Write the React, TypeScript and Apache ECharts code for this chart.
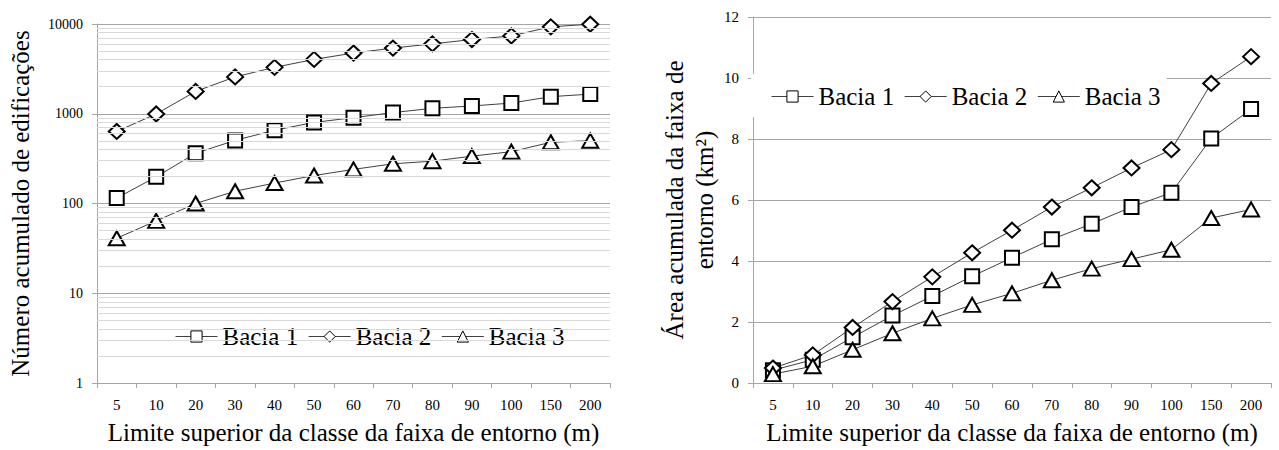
import React, { useEffect, useRef } from "react";
import * as echarts from "echarts";

const categories = ["5", "10", "20", "30", "40", "50", "60", "70", "80", "90", "100", "150", "200"];
const seriesNames = ["Bacia 1", "Bacia 2", "Bacia 3"];

// Left chart: cumulative number of buildings (log scale)
const bacia1Count = [115, 198, 363, 505, 655, 800, 905, 1030, 1150, 1220, 1315, 1550, 1655];
const bacia2Count = [635, 995, 1775, 2575, 3290, 4030, 4750, 5390, 6010, 6710, 7370, 9300, 9950];
const bacia3Count = [41, 64, 100, 137, 169, 205, 240, 277, 296, 337, 378, 481, 501];

// Right chart: cumulative area (km²)
const bacia1Area = [0.42, 0.76, 1.5, 2.21, 2.85, 3.5, 4.11, 4.71, 5.22, 5.77, 6.24, 8.02, 8.98];
const bacia2Area = [0.49, 0.92, 1.82, 2.67, 3.48, 4.27, 5.01, 5.77, 6.4, 7.05, 7.65, 9.82, 10.7];
const bacia3Area = [0.29, 0.55, 1.09, 1.63, 2.12, 2.56, 2.94, 3.37, 3.75, 4.06, 4.37, 5.41, 5.69];

// Log-axis minor gridlines (2..9 within each decade)
const decades = [1, 10, 100, 1000];
const minorMultipliers = [2, 3, 4, 5, 6, 7, 8, 9];

const leftTitleY = "Número acumulado de edificações";
const rightTitleY = "Área acumulada da faixa de\nentorno (km²)";
const titleX = "Limite superior da classe da faixa de entorno (m)";

const FONT = "'Liberation Serif', 'Times New Roman', serif";
const MAJOR = "#a6a6a6";
const MINOR = "#d9d9d9";

const symbols = ["rect", "diamond", "triangle"];
const symbolSizes: any[] = [[14, 14], [16, 15], [16, 14]];

export default function App() {
  const ref = useRef<HTMLDivElement>(null);

  useEffect(() => {
    if (!ref.current) return;
    const chart = echarts.init(ref.current, undefined, { renderer: "svg" });

    const minorGridValues: number[] = [];
    decades.forEach((d) => minorMultipliers.forEach((m) => minorGridValues.push(d * m)));

    const countData = [bacia1Count, bacia2Count, bacia3Count];
    const areaData = [bacia1Area, bacia2Area, bacia3Area];

    const mkSeries = (idx: number, data: number[], axisIndex: number) => ({
      name: seriesNames[idx],
      type: "line",
      xAxisIndex: axisIndex,
      yAxisIndex: axisIndex,
      data,
      symbol: symbols[idx],
      symbolSize: symbolSizes[idx],
      showAllSymbol: true,
      lineStyle: { color: "#404040", width: 1 },
      itemStyle: { color: "#ffffff", borderColor: "#000000", borderWidth: 2 },
      z: 3,
    });

    const xAxisCommon = {
      type: "category",
      data: categories,
      boundaryGap: true,
      axisLine: { show: true, lineStyle: { color: MAJOR, width: 1 } },
      axisTick: { show: true, length: 5, lineStyle: { color: MAJOR } },
      axisLabel: { fontSize: 15, color: "#000", margin: 14, interval: 0, fontFamily: FONT },
      splitLine: { show: false },
      name: titleX,
      nameLocation: "middle",
      nameGap: 37,
      nameTextStyle: { fontSize: 25, color: "#000", fontFamily: FONT },
    };

    const legendCommon = {
      data: seriesNames.map((n) => ({ name: n, textStyle: { fontFamily: FONT, fontSize: 25, color: "#000" } })),
      orient: "horizontal",
      itemWidth: 42,
      itemHeight: 14,
      itemGap: 10,
      backgroundColor: "#ffffff",
      textStyle: { fontSize: 25, color: "#000", fontFamily: FONT },
      itemStyle: { borderWidth: 1 },
      lineStyle: { width: 1, color: "#404040" },
      selectedMode: false,
    };

    const option: any = {
      animation: false,
      backgroundColor: "#ffffff",
      textStyle: { fontFamily: FONT },
      grid: [
        { left: 97, right: 1279 - 610, top: 24, bottom: 450 - 386 },
        { left: 753, right: 1279 - 1271, top: 17, bottom: 450 - 385 },
      ],
      legend: [
        { ...legendCommon, left: 167, top: 318, padding: [6, 8, 6, 8] },
        { ...legendCommon, left: 751, top: 74, padding: [10, 6, 8, 20] },
      ],
      xAxis: [
        { ...xAxisCommon, gridIndex: 0 },
        { ...xAxisCommon, gridIndex: 1 },
      ],
      yAxis: [
        {
          type: "log",
          logBase: 10,
          min: 1,
          max: 10000,
          gridIndex: 0,
          axisLine: { show: true, lineStyle: { color: MAJOR } },
          axisTick: { show: true, length: 5, lineStyle: { color: MAJOR } },
          axisLabel: {
            fontSize: 14,
            color: "#000",
            margin: 14,
            fontFamily: FONT,
            formatter: (v: number) => String(Math.round(v)),
          },
          splitLine: { show: true, lineStyle: { color: MAJOR, width: 1 } },
          name: leftTitleY,
          nameLocation: "middle",
          nameRotate: 90,
          nameGap: 64,
          nameTextStyle: { fontSize: 25, color: "#000", fontFamily: FONT },
        },
        {
          type: "value",
          min: 0,
          max: 12,
          interval: 2,
          gridIndex: 1,
          axisLine: { show: true, lineStyle: { color: MAJOR } },
          axisTick: { show: true, length: 5, lineStyle: { color: MAJOR } },
          axisLabel: { fontSize: 15, color: "#000", margin: 14, fontFamily: FONT },
          splitLine: { show: true, lineStyle: { color: MAJOR, width: 1 } },
          name: rightTitleY,
          nameLocation: "middle",
          nameRotate: 90,
          nameGap: 34,
          nameTextStyle: { fontSize: 25, color: "#000", fontFamily: FONT, lineHeight: 30 },
        },
      ],
      series: [
        {
          name: "minor-grid",
          type: "line",
          xAxisIndex: 0,
          yAxisIndex: 0,
          data: [],
          z: 1,
          silent: true,
          markLine: {
            silent: true,
            symbol: "none",
            label: { show: false },
            lineStyle: { color: MINOR, type: "solid", width: 1 },
            emphasis: { disabled: true },
            data: minorGridValues.map((v) => ({ yAxis: v })),
          },
        },
        ...countData.map((d, i) => mkSeries(i, d, 0)),
        ...areaData.map((d, i) => mkSeries(i, d, 1)),
      ],
    };

    chart.setOption(option);
    return () => chart.dispose();
  }, []);

  return (
    <div
      ref={ref}
      style={{ position: "absolute", left: 0, top: 0, width: 1279, height: 450, background: "#fff" }}
    />
  );
}
